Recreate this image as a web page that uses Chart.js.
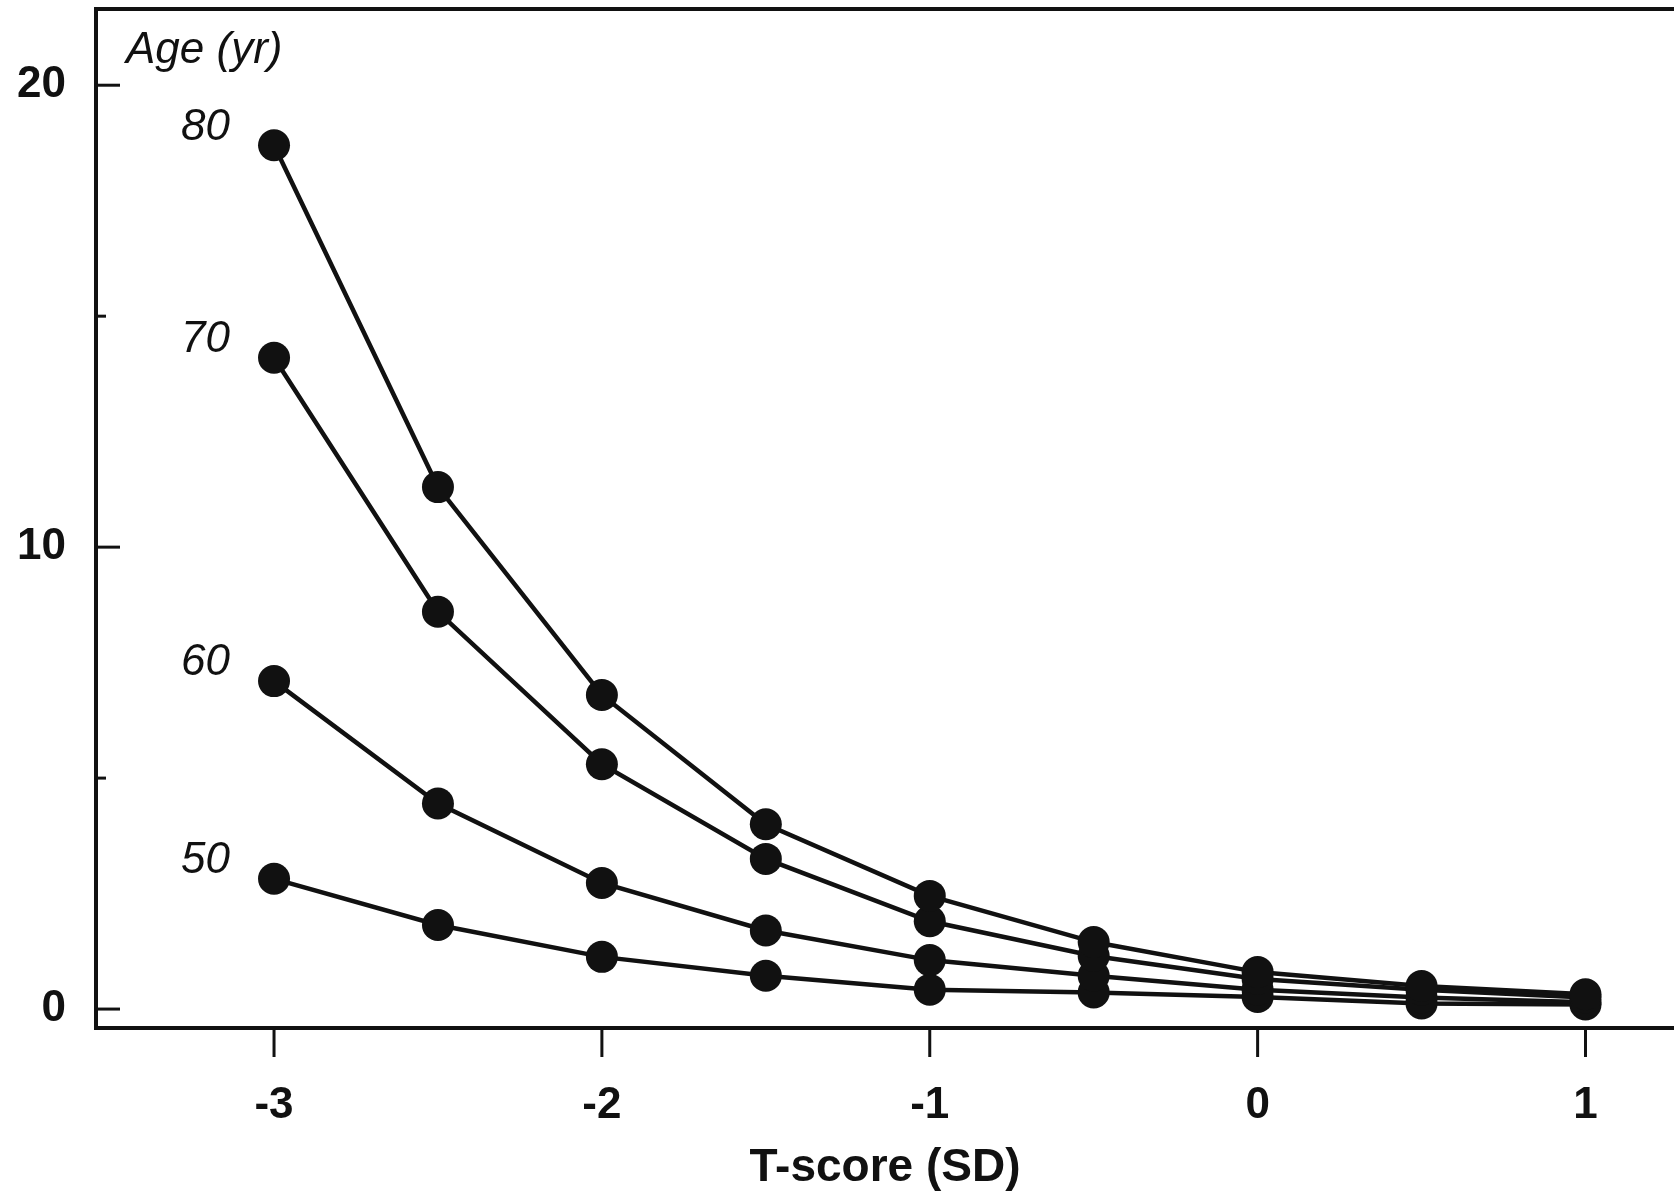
<!DOCTYPE html>
<html>
<head>
<meta charset="utf-8">
<script src="https://cdn.jsdelivr.net/npm/chart.js@4.4.0/dist/chart.umd.min.js"></script>
<style>
  html, body { margin: 0; padding: 0; background: #fff; }
  #wrap { width: 1674px; height: 1197px; }
</style>
</head>
<body>
<div id="wrap"><canvas id="chart" width="1674" height="1197"></canvas></div>
<script>
// T-score (SD) on the x axis
const tScores = [-3, -2.5, -2, -1.5, -1, -0.5, 0, 0.5, 1];

// values, one array per age
const age80 = [18.7, 11.3, 6.8, 4.0, 2.45, 1.45, 0.8, 0.5, 0.32];
const age70 = [14.1, 8.6, 5.3, 3.25, 1.9, 1.15, 0.65, 0.42, 0.25];
const age60 = [7.1, 4.45, 2.73, 1.7, 1.06, 0.72, 0.42, 0.25, 0.15];
const age50 = [2.82, 1.82, 1.13, 0.72, 0.42, 0.36, 0.26, 0.12, 0.1];

const ageLabels = ['80', '70', '60', '50'];
const xTicks = [-3, -2, -1, 0, 1];
const yTicks = [0, 5, 10, 15, 20];
const yLabelled = [0, 10, 20];

const ink = '#111';
const fontName = '"Liberation Sans", Arial, Helvetica, sans-serif';

function toPoints(values) {
  return values.map((v, i) => ({ x: tScores[i], y: v }));
}

const series = [age80, age70, age60, age50];

var datasets = series.map((vals, i) => ({
  label: ageLabels[i],
  data: toPoints(vals),
  showLine: true,
  borderColor: ink,
  borderWidth: 4.5,
  pointRadius: 16,
  pointHoverRadius: 16,
  pointBackgroundColor: ink,
  pointBorderColor: ink,
  pointBorderWidth: 0,
  tension: 0,
  clip: false,
}));

const frame = {
  id: 'frame',
  beforeDraw: (chart) => {
    const ctx = chart.ctx;
    ctx.save();
    ctx.fillStyle = '#fff';
    ctx.fillRect(0, 0, chart.width, chart.height);
    ctx.restore();
  },
  afterDraw: (chart) => {
    const ctx = chart.ctx;
    const area = chart.chartArea;
    const xs = chart.scales.x;
    const ys = chart.scales.y;
    ctx.save();
    ctx.strokeStyle = ink;
    ctx.lineCap = 'butt';

    // top border of the frame
    ctx.lineWidth = 4;
    ctx.beginPath();
    ctx.moveTo(area.left - 2, area.top);
    ctx.lineTo(chart.width, area.top);
    ctx.stroke();

    // y tick marks point inward
    ctx.lineWidth = 3;
    yTicks.forEach((v) => {
      const py = ys.getPixelForValue(v);
      const len = yLabelled.includes(v) ? 24 : 10;
      ctx.beginPath();
      ctx.moveTo(area.left, py);
      ctx.lineTo(area.left + len, py);
      ctx.stroke();
    });

    // x tick marks point outward
    xTicks.forEach((v) => {
      const px = xs.getPixelForValue(v);
      ctx.beginPath();
      ctx.moveTo(px, area.bottom);
      ctx.lineTo(px, area.bottom + 29);
      ctx.stroke();
    });

    // age labels beside the first point of each curve
    ctx.fillStyle = ink;
    ctx.font = 'italic 44px ' + fontName;
    ctx.textAlign = 'right';
    ctx.textBaseline = 'middle';
    series.forEach((vals, i) => {
      const px = xs.getPixelForValue(tScores[0]) - 44;
      const py = ys.getPixelForValue(vals[0]) - 18;
      ctx.fillText(ageLabels[i], px, py);
    });

    ctx.textAlign = 'left';
    ctx.textBaseline = 'alphabetic';
    ctx.fillText('Age (yr)', area.left + 30, area.top + 54);
    ctx.restore();
  }
};

const chart = new Chart(document.getElementById('chart').getContext('2d'), {
  type: 'scatter',
  data: { datasets: datasets },
  plugins: [frame],
  options: {
    responsive: false,
    animation: false,
    layout: { autoPadding: false, padding: { top: 9, right: 0, left: 0, bottom: 0 } },
    plugins: {
      legend: { display: false },
      tooltip: { enabled: false },
    },
    scales: {
      x: {
        type: 'linear',
        min: -3.543,
        max: 1.27,
        afterBuildTicks: (scale) => {
          scale.ticks = xTicks.map((v) => ({ value: v }));
        },
        afterFit: (scale) => {
          scale.height = 169;
          scale.paddingLeft = 0;
          scale.paddingRight = 0;
        },
        grid: { display: false, drawTicks: false },
        border: { display: true, color: ink, width: 4 },
        ticks: {
          color: ink,
          padding: 51,
          font: { family: fontName, size: 44, weight: 'bold' },
          callback: (v) => String(v),
        },
        title: {
          display: true,
          text: 'T-score (SD)',
          color: ink,
          padding: { top: 0, bottom: 1 },
          font: { family: fontName, size: 46, weight: 'bold' },
        },
      },
      y: {
        type: 'linear',
        min: -0.41,
        max: 21.65,
        afterBuildTicks: (scale) => {
          scale.ticks = yTicks.map((v) => ({ value: v }));
        },
        afterFit: (scale) => {
          scale.width = 96;
          scale.paddingTop = 0;
          scale.paddingBottom = 0;
        },
        grid: { display: false, drawTicks: false },
        border: { display: true, color: ink, width: 4 },
        ticks: {
          color: ink,
          padding: 30,
          font: { family: fontName, size: 44, weight: 'bold' },
          callback: (v) => (yLabelled.includes(v) ? String(v) : ''),
        },
      },
    },
  },
});
</script>
</body>
</html>
